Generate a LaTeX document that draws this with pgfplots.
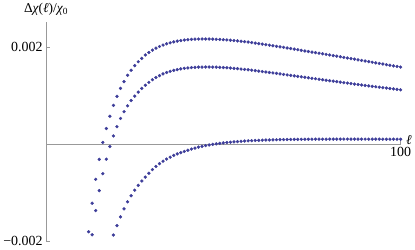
\documentclass[border=0pt]{standalone}
\usepackage{pgfplots}
\pgfplotsset{compat=1.18}
\usepackage{pgfplotstable}
\usepackage{fontspec}
\setmainfont{Liberation Serif}
\definecolor{mpt}{rgb}{0.24,0.24,0.6}

\pgfplotstableread{
l v
12 -1.807
13 -1.218
14 -0.725
15 -0.314
16 0.035
17 0.322
18 0.575
19 0.800
20 0.986
21 1.150
22 1.290
23 1.420
24 1.525
25 1.620
26 1.700
27 1.770
28 1.840
29 1.890
30 1.940
31 1.980
32 2.015
33 2.045
34 2.070
35 2.090
36 2.110
37 2.125
38 2.138
39 2.148
40 2.156
41 2.162
42 2.166
43 2.169
44 2.170
45 2.170
46 2.169
47 2.167
48 2.164
49 2.160
50 2.156
51 2.151
52 2.145
53 2.138
54 2.131
55 2.123
56 2.115
57 2.106
58 2.096
59 2.086
60 2.075
61 2.064
62 2.053
63 2.042
64 2.030
65 2.019
66 2.008
67 1.997
68 1.985
69 1.973
70 1.960
71 1.948
72 1.935
73 1.923
74 1.911
75 1.899
76 1.888
77 1.876
78 1.864
79 1.852
80 1.840
81 1.828
82 1.815
83 1.803
84 1.790
85 1.778
86 1.765
87 1.753
88 1.740
89 1.728
90 1.715
91 1.703
92 1.690
93 1.678
94 1.665
95 1.653
96 1.640
97 1.628
98 1.615
99 1.603
100 1.590
}\serA

\pgfplotstableread{
l v
13 -1.870
14 -1.370
15 -0.960
16 -0.610
17 -0.310
18 -0.050
19 0.170
20 0.360
21 0.530
22 0.670
23 0.790
24 0.900
25 0.990
26 1.075
27 1.150
28 1.215
29 1.275
30 1.330
31 1.375
32 1.415
33 1.450
34 1.478
35 1.502
36 1.522
37 1.539
38 1.553
39 1.564
40 1.573
41 1.580
42 1.585
43 1.588
44 1.590
45 1.591
46 1.591
47 1.590
48 1.588
49 1.585
50 1.581
51 1.576
52 1.570
53 1.564
54 1.557
55 1.550
56 1.542
57 1.534
58 1.526
59 1.517
60 1.508
61 1.498
62 1.489
63 1.479
64 1.469
65 1.459
66 1.449
67 1.439
68 1.429
69 1.419
70 1.409
71 1.399
72 1.389
73 1.379
74 1.369
75 1.359
76 1.349
77 1.339
78 1.329
79 1.319
80 1.309
81 1.299
82 1.289
83 1.279
84 1.269
85 1.260
86 1.250
87 1.240
88 1.231
89 1.221
90 1.212
91 1.202
92 1.193
93 1.184
94 1.175
95 1.166
96 1.157
97 1.148
98 1.139
99 1.130
100 1.121
}\serB

\pgfplotstableread{
l v
19 -1.875
20 -1.680
21 -1.500
22 -1.335
23 -1.190
24 -1.065
25 -0.950
26 -0.850
27 -0.760
28 -0.680
29 -0.600
30 -0.525
31 -0.460
32 -0.402
33 -0.352
34 -0.308
35 -0.268
36 -0.232
37 -0.202
38 -0.176
39 -0.150
40 -0.125
41 -0.102
42 -0.081
43 -0.062
44 -0.045
45 -0.030
46 -0.016
47 -0.004
48 0.007
49 0.017
50 0.026
51 0.034
52 0.041
53 0.048
54 0.054
55 0.059
56 0.064
57 0.068
58 0.072
59 0.076
60 0.079
61 0.082
62 0.085
63 0.087
64 0.089
65 0.091
66 0.093
67 0.094
68 0.096
69 0.097
70 0.098
71 0.099
72 0.100
73 0.101
74 0.101
75 0.102
76 0.102
77 0.103
78 0.103
79 0.103
80 0.104
81 0.104
82 0.104
83 0.104
84 0.104
85 0.104
86 0.104
87 0.104
88 0.104
89 0.104
90 0.104
91 0.103
92 0.103
93 0.103
94 0.103
95 0.103
96 0.102
97 0.102
98 0.102
99 0.102
100 0.101
}\serC

\begin{document}
\begin{tikzpicture}
\begin{axis}[
  scale only axis,
  width=356pt, height=220pt,
  axis lines=middle,
  axis line style={draw=black!40, line width=0.6pt, -},
  xmin=0, xmax=100,
  ymin=-2, ymax=2.52,
  xtick={100}, xticklabels={100},
  ytick={-2,0,2}, yticklabels={−0.002,0,0.002},
  tick align=inside,
  major tick length=4pt,
  tick style={draw=black!40, line width=0.6pt},
  tick label style={font=\fontsize{14}{16}\selectfont},
  /pgf/number format/assume math mode=true,
  xlabel={\itshape ℓ},
  ylabel={Δ{\itshape χ}({\itshape ℓ})/{\itshape χ}\textsubscript{0}},
  xlabel style={at={(axis cs:100,0)}, anchor=south west, xshift=2pt, yshift=-4pt, font=\fontsize{13.5}{15}\selectfont},
  ylabel style={at={(axis cs:0,2.52)}, anchor=south, rotate=0, yshift=3pt, font=\fontsize{13.5}{15}\selectfont},
  clip=false,
]
\addplot[only marks, mark=*, mark size=1.45pt, mpt] table[x=l, y=v] {\serA};
\addplot[only marks, mark=*, mark size=1.45pt, mpt] table[x=l, y=v] {\serB};
\addplot[only marks, mark=*, mark size=1.45pt, mpt] table[x=l, y=v] {\serC};
\end{axis}
\end{tikzpicture}
\end{document}
